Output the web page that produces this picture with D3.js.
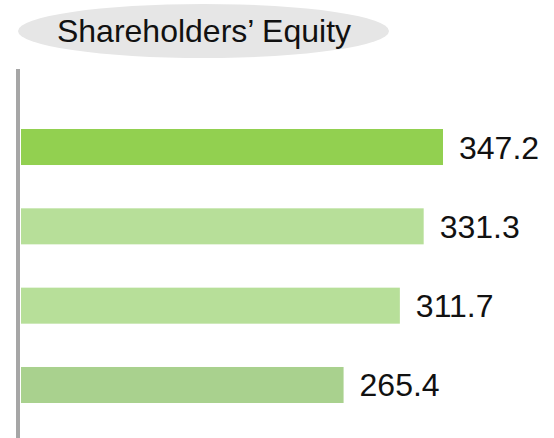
<!DOCTYPE html>
<html>
<head>
<meta charset="utf-8">
<script src="https://cdn.jsdelivr.net/npm/d3@7"></script>
<style>
  html, body { margin: 0; padding: 0; background: #fff; }
  svg { display: block; font-family: "Liberation Sans", Arial, sans-serif; }
</style>
</head>
<body>
<svg id="chart" width="554" height="438"></svg>
<script>
// chart data (top to bottom)
const title = 'Shareholders\u2019 Equity';
const categories = ['a', 'b', 'c', 'd'];
const values = [347.2, 331.3, 311.7, 265.4];
const barColors = ['#92d050', '#b7df99', '#b7df99', '#a9d18e'];

const width = 554;
const height = 438;

const svg = d3.select('#chart');

// title pill
svg.append('ellipse')
  .attr('cx', 203.5)
  .attr('cy', 31)
  .attr('rx', 185.5)
  .attr('ry', 27)
  .attr('fill', '#e6e6e6');

svg.append('text')
  .attr('x', 204)
  .attr('y', 42)
  .attr('text-anchor', 'middle')
  .attr('font-size', 32)
  .attr('fill', '#111')
  .text(title);

// scales
const x = d3.scaleLinear().domain([0, d3.max(values)]).range([21, 443]);
const y = d3.scaleBand().domain(categories).range([129, 403]).paddingInner(0.546).paddingOuter(0);

// vertical axis line
svg.append('line')
  .attr('x1', 18).attr('x2', 18)
  .attr('y1', 69).attr('y2', height)
  .attr('stroke', '#a6a6a6')
  .attr('stroke-width', 4);

// bars
svg.append('g')
  .selectAll('rect')
  .data(values)
  .enter().append('rect')
  .attr('x', x(0))
  .attr('y', (d, i) => y(categories[i]))
  .attr('width', d => x(d) - x(0))
  .attr('height', y.bandwidth())
  .attr('fill', (d, i) => barColors[i]);

// value labels
svg.append('g')
  .selectAll('text')
  .data(values)
  .enter().append('text')
  .attr('x', d => x(d) + 16)
  .attr('y', (d, i) => y(categories[i]) + y.bandwidth() / 2 + 11.5)
  .attr('font-size', 32)
  .attr('fill', '#111')
  .text(d => d3.format('.1f')(d));
</script>
</body>
</html>
